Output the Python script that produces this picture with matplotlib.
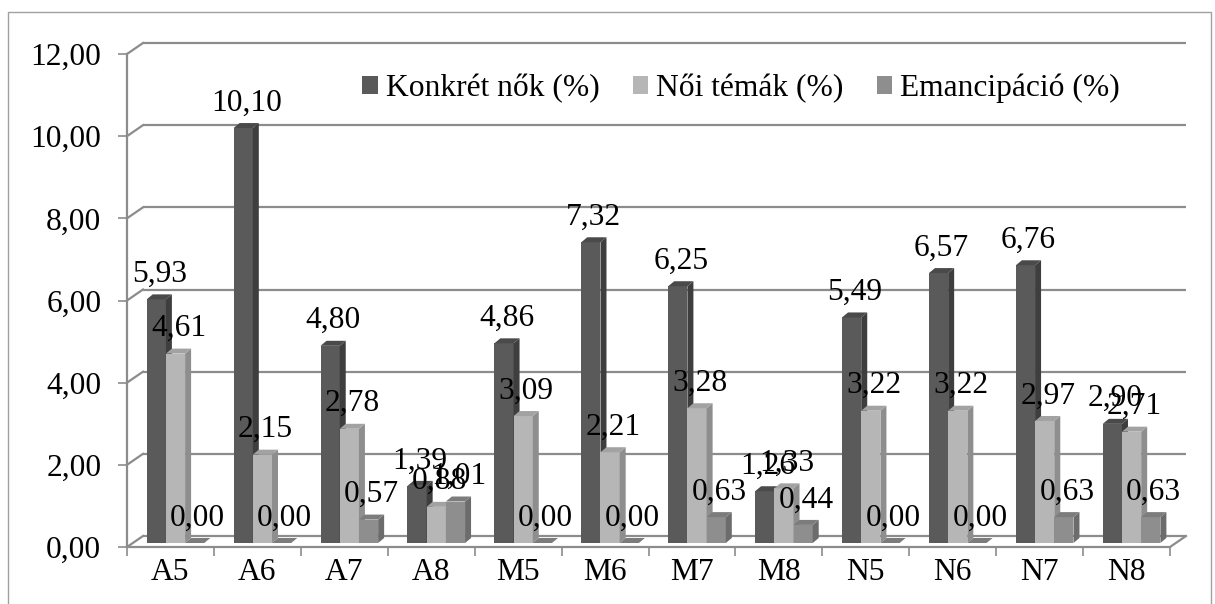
import matplotlib.pyplot as plt
from matplotlib.patches import Polygon, Rectangle, Patch

plt.rcParams['font.family'] = ['Liberation Serif', 'DejaVu Serif']

# data
categories = ['A5', 'A6', 'A7', 'A8', 'M5', 'M6', 'M7', 'M8', 'N5', 'N6', 'N7', 'N8']
konkret = [5.93, 10.10, 4.80, 1.39, 4.86, 7.32, 6.25, 1.26, 5.49, 6.57, 6.76, 2.90]
noi_temak = [4.61, 2.15, 2.78, 0.88, 3.09, 2.21, 3.28, 1.33, 3.22, 3.22, 2.97, 2.71]
emancipacio = [0.00, 0.00, 0.57, 1.01, 0.00, 0.00, 0.63, 0.44, 0.00, 0.00, 0.63, 0.63]
series_names = ['Konkrét nők (%)', 'Női témák (%)', 'Emancipáció (%)']

# (front, side, top) colours per series
colors = [('#5a5a5a', '#3e3e3e', '#4a4a4a'),
          ('#b6b6b6', '#8e8e8e', '#a2a2a2'),
          ('#8e8e8e', '#6c6c6c', '#7c7c7c')]

FS = 22.7

W, H = 1215, 604
fig = plt.figure(figsize=(W / 100, H / 100), dpi=100)
x0, x1, y0, y1 = 127, 1170, 547, 54
ax = fig.add_axes([x0 / W, 1 - y0 / H, (x1 - x0) / W, (y0 - y1) / H])
ax.set_xlim(0, 12)
ax.set_ylim(0, 12)

px_x = (x1 - x0) / 12.0
px_y = (y0 - y1) / 12.0

grid_c = '#8c8c8c'
wall_dx, wall_dy = 16 / px_x, 11 / px_y     # back wall offset
bar_dx, bar_dy = 6 / px_x, 5 / px_y         # bar depth
lift = 4 / px_y
bar_w = 19.2 / px_x
first = 19.7 / px_x

# back wall gridlines and their slanted connectors
for g in range(0, 14, 2):
    ax.plot([wall_dx, 12 + wall_dx], [g + wall_dy, g + wall_dy], color=grid_c, lw=1.6,
            clip_on=False, zorder=1, solid_capstyle='butt')
    ax.plot([0, wall_dx], [g, g + wall_dy], color=grid_c, lw=1.6, clip_on=False, zorder=1)
# floor
ax.plot([12, 12 + wall_dx], [0, wall_dy], color=grid_c, lw=1.6, clip_on=False, zorder=1)

# 3d bars
for j, vals in enumerate([konkret, noi_temak, emancipacio]):
    front, side, top = colors[j]
    for i, v in enumerate(vals):
        xl = i + first + j * bar_w
        xr = xl + bar_w
        b = lift
        t = lift + v
        z = 3 + j
        ax.add_patch(Rectangle((xl, b), bar_w, v, facecolor=front, edgecolor='none', zorder=z))
        ax.add_patch(Polygon([(xr, b), (xr + bar_dx, b + bar_dy), (xr + bar_dx, t + bar_dy), (xr, t)],
                             closed=True, facecolor=side, edgecolor='none', zorder=z))
        ax.add_patch(Polygon([(xl, t), (xl + bar_dx, t + bar_dy), (xr + bar_dx, t + bar_dy), (xr, t)],
                             closed=True, facecolor=top, edgecolor='none', zorder=z))
        ax.annotate(f'{v:.2f}'.replace('.', ','), (xl + bar_w / 2 + bar_dx / 2, t + bar_dy),
                    xytext=(0, 4), textcoords='offset points', ha='center', va='bottom',
                    fontsize=FS, zorder=10)

# axes
for s in ['top', 'right']:
    ax.spines[s].set_visible(False)
for s in ['left', 'bottom']:
    ax.spines[s].set_color(grid_c)
    ax.spines[s].set_linewidth(1.6)
    ax.spines[s].set_zorder(2)
ax.set_yticks(range(0, 14, 2))
ax.set_yticklabels([f'{g:.2f}'.replace('.', ',') for g in range(0, 14, 2)], fontsize=FS)
ax.set_xticks(range(13))
ax.set_xticklabels([])
ax.set_xticks([i + 0.5 for i in range(12)], minor=True)
ax.set_xticklabels(categories, minor=True, fontsize=FS)
ax.tick_params(axis='both', which='major', color=grid_c, length=6.5, width=1.2)
ax.tick_params(axis='y', pad=12)
ax.tick_params(axis='x', which='minor', length=0, pad=8)

handles = [Patch(facecolor=c[0], edgecolor='none') for c in colors]
fig.legend(handles, series_names, loc='center left', bbox_to_anchor=(362 / W, 1 - 88 / H),
           ncol=3, frameon=False, fontsize=FS, handlelength=0.5, handleheight=0.5,
           handletextpad=0.25, columnspacing=1.05, borderaxespad=0, borderpad=0)

# chart border
fig.patches.append(Rectangle((8 / W, -0.05), (1211 - 8) / W, 1.05 - 12 / H,
                             transform=fig.transFigure, fill=False, edgecolor='#a0a0a0', lw=1))

fig.savefig('out.png', dpi=100)
